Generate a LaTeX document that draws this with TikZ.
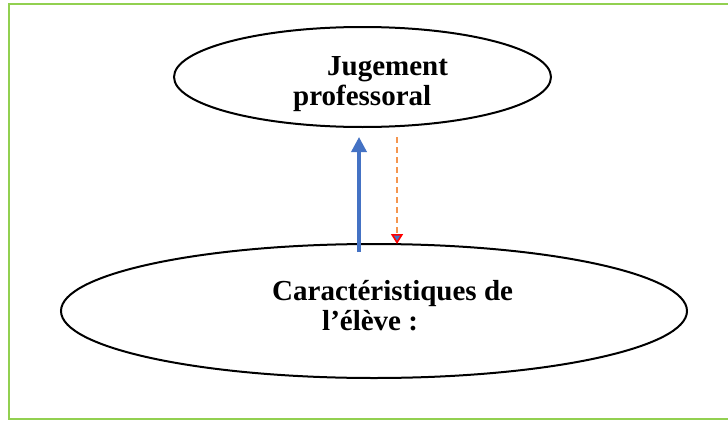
\documentclass[tikz,border=0pt]{standalone}
\usepackage{fontspec}
\setmainfont{Liberation Serif}
\usetikzlibrary{arrows.meta,shapes.geometric}
\definecolor{framegreen}{RGB}{146,208,80}
\definecolor{arrowblue}{RGB}{68,114,196}
\definecolor{arroworange}{RGB}{244,150,80}
\tikzset{
  oval/.style={draw=black, line width=2pt, ellipse, inner sep=0pt},
  lbl/.style={font=\fontsize{29}{30}\selectfont\bfseries, inner sep=0pt, anchor=base west},
}
\begin{document}
\begin{tikzpicture}[x=1pt,y=-1pt]
\useasboundingbox (0,0) rectangle (728,423);
\fill[white] (0,0) rectangle (728,423);
\draw[framegreen, line width=2.2pt] (740,4) -- (9,4) -- (9,419) -- (740,419);
\node[oval, minimum width=377, minimum height=100] (top) at (362.5,77) {};
\node[oval, minimum width=626, minimum height=134] (bot) at (374,311) {};
\node[lbl] (j1) at (327,75) {Jugement};
\node[lbl] (j2) at (293,105) {professoral};
\node[lbl] (c1) at (272,300) {Caractéristiques de};
\node[lbl] (c2) at (322,330) {l’élève :};
\coordinate (bs) at (359,252);
\coordinate (bt) at (359,137);
\coordinate (os) at (397,137);
\coordinate (ot) at (397,244);
\draw[arrowblue, line width=3.4pt, -{Triangle[width=15pt,length=15pt]}] (bs) -- (bt);
\draw[arroworange, line width=1.8pt, dash pattern=on 6pt off 4pt, -{Triangle[width=12pt,length=10pt,color=red,fill=arrowblue,line width=1.6pt]}] (os) -- (ot);
\end{tikzpicture}
\end{document}
